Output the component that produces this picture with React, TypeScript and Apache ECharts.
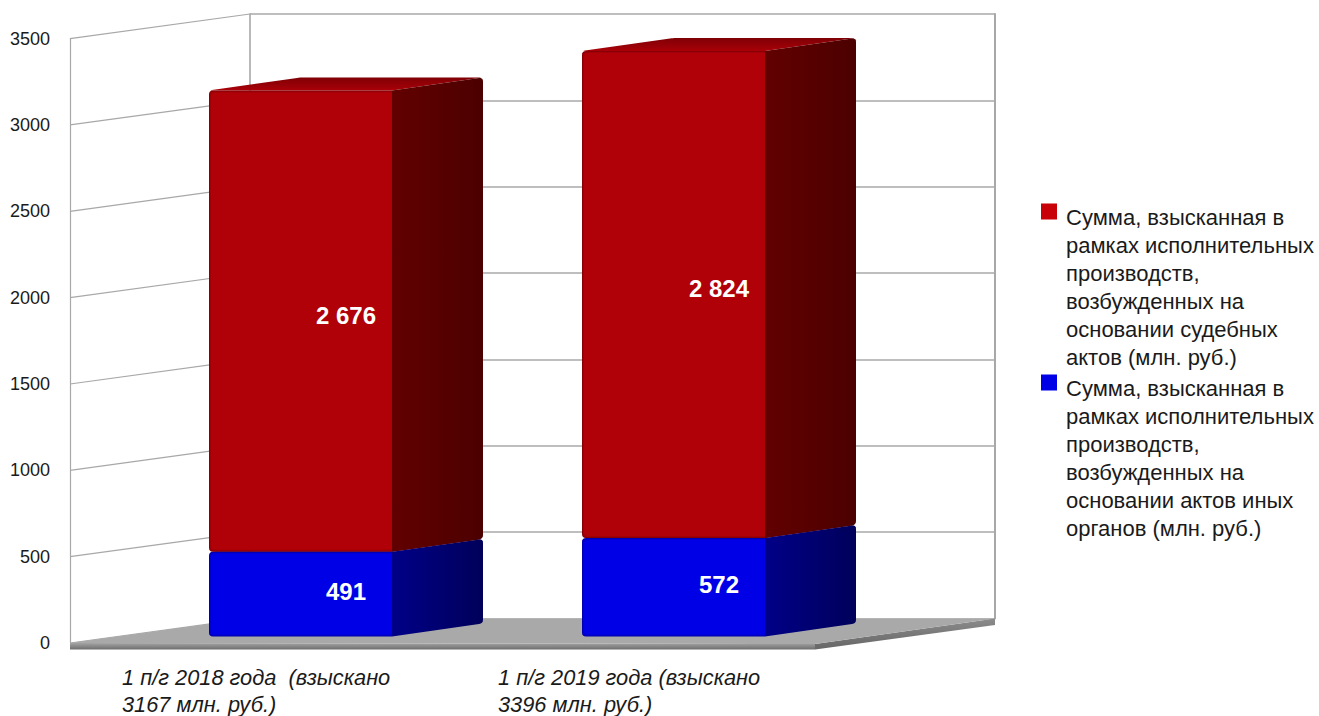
import React, { useEffect, useRef } from "react";
import * as echarts from "echarts";

const categories = ["1 п/г 2018 года  (взыскано\n3167 млн. руб.)", "1 п/г 2019 года (взыскано\n3396 млн. руб.)"];
const courtValues = [2676, 2824];
const otherValues = [491, 572];
const courtLabels = ["2 676", "2 824"];
const otherLabels = ["491", "572"];
const wallTicks = [0, 500, 1000, 1500, 2000, 2500, 3000, 3500];
const courtName = "Сумма, взысканная в\nрамках исполнительных\nпроизводств,\nвозбужденных на\nосновании судебных\nактов (млн. руб.)";
const otherName = "Сумма, взысканная в\nрамках исполнительных\nпроизводств,\nвозбужденных на\nосновании актов иных\nорганов (млн. руб.)";

const W = 1319;
const H = 716;
const FONT = "'Liberation Sans', Arial, sans-serif";
const WALL = "#a8a8a8";
const WALL_DX = 180;
const WALL_DY = -24.6;
const BAR_DX = 91;
const BAR_DY = -13;
const BAR_W = 183;

type P = [number, number];
function rounded(points: P[], radii: number[]): P[] {
  const out: P[] = [];
  const n = points.length;
  points.forEach((p, i) => {
    const r = radii[i];
    if (!r) {
      out.push(p);
      return;
    }
    const a = points[(i + n - 1) % n];
    const b = points[(i + 1) % n];
    const la = Math.hypot(a[0] - p[0], a[1] - p[1]);
    const lb = Math.hypot(b[0] - p[0], b[1] - p[1]);
    const s: P = [p[0] + ((a[0] - p[0]) * r) / la, p[1] + ((a[1] - p[1]) * r) / la];
    const e: P = [p[0] + ((b[0] - p[0]) * r) / lb, p[1] + ((b[1] - p[1]) * r) / lb];
    for (let k = 0; k <= 4; k++) {
      const t = k / 4;
      out.push([
        (1 - t) * (1 - t) * s[0] + 2 * t * (1 - t) * p[0] + t * t * e[0],
        (1 - t) * (1 - t) * s[1] + 2 * t * (1 - t) * p[1] + t * t * e[1],
      ]);
    }
  });
  return out;
}

const grad = (x2: number, y2: number, a: string, b: string) =>
  new echarts.graphic.LinearGradient(0, 0, x2, y2, [
    { offset: 0, color: a },
    { offset: 1, color: b },
  ]);

type Shade = { rim: string; mid: string; main: string; sideA: string; sideB: string; topA: string; topB: string };
const RED: Shade = { rim: "#860006", mid: "#a00007", main: "#b00008", sideA: "#620000", sideB: "#4c0000", topA: "#7e0005", topB: "#aa0008" };
const BLUE: Shade = { rim: "#0000b0", mid: "#0000d0", main: "#0000e6", sideA: "#000088", sideB: "#00005a", topA: "#0000a0", topB: "#0000c8" };

function barRenderer(shade: Shade, labels: string[], labelDy: number) {
  return (params: any, api: any) => {
    const cat = api.value(0);
    const low = api.coord([cat, api.value(1)]);
    const high = api.coord([cat, api.value(2)]);
    const l = low[0] - BAR_W / 2;
    const r = low[0] + BAR_W / 2;
    const b = low[1];
    const t = high[1];
    const poly = (pts: P[], fill: any) => ({ type: "polygon", shape: { points: pts }, style: { fill, stroke: null } });
    const frontAt = (i: number) =>
      rounded(
        [
          [l + i, t + i],
          [r, t + i],
          [r, b - i],
          [l + i, b - i],
        ],
        [4, 0, 0, 4]
      );
    return {
      type: "group",
      children: [
        poly(
          rounded(
            [
              [l, t],
              [l + BAR_DX, t + BAR_DY],
              [r + BAR_DX, t + BAR_DY],
              [r, t],
            ],
            [3, 3, 4, 0]
          ),
          grad(0, 1, shade.topA, shade.topB)
        ),
        poly(
          rounded(
            [
              [r, t],
              [r + BAR_DX, t + BAR_DY],
              [r + BAR_DX, b + BAR_DY],
              [r, b],
            ],
            [0, 4, 4, 0]
          ),
          grad(1, 0, shade.sideA, shade.sideB)
        ),
        poly(frontAt(0), shade.rim),
        poly(frontAt(1), shade.mid),
        poly(frontAt(2), shade.main),
        {
          type: "text",
          style: {
            text: labels[cat],
            x: (l + r + BAR_DX) / 2,
            y: (t + b) / 2 + labelDy,
            fill: "#ffffff",
            font: `bold 24px ${FONT}`,
            align: "center",
            verticalAlign: "middle",
          },
        },
      ],
    };
  };
}

function floorRenderer(_params: any, api: any) {
  const p = api.coord([0, api.value(0)]);
  const x0 = 70;
  const y0 = p[1];
  const fr = 815;
  const backL = x0 + WALL_DX;
  const backR = backL + 745;
  const yb = y0 + WALL_DY;
  const thick = 6.5;
  return {
    type: "group",
    children: [
      {
        type: "polygon",
        shape: { points: [[x0, y0], [fr, y0 + 1], [fr, y0 + thick], [x0, y0 + thick]] },
        style: { fill: grad(0, 1, "#a4a4a4", "#6e6e6e") },
      },
      {
        type: "polygon",
        shape: { points: [[fr, y0 + 1], [backR, yb], [backR, yb + thick], [fr, y0 + thick]] },
        style: { fill: grad(0, 1, "#8c8c8c", "#666666") },
      },
      {
        type: "polygon",
        shape: { points: [[x0, y0], [backL, yb], [backR, yb], [fr, y0 + 1]] },
        style: { fill: "#a9a9a9" },
      },
    ],
  };
}

function diagonalRenderer(_params: any, api: any) {
  const p = api.coord([0, api.value(0)]);
  return {
    type: "line",
    shape: { x1: 70, y1: p[1], x2: 70 + WALL_DX, y2: p[1] + WALL_DY },
    style: { stroke: WALL, lineWidth: 1.2 },
  };
}

const hiddenAxis = { show: false };

export default function App() {
  const ref = useRef<HTMLDivElement>(null);

  useEffect(() => {
    document.body.style.margin = "0";
    const chart = echarts.init(ref.current!, undefined, { renderer: "svg" });
    const otherData = otherValues.map((v, i) => [i, 0, v]);
    const courtData = courtValues.map((v, i) => [i, otherValues[i], otherValues[i] + v]);

    chart.setOption({
      animation: false,
      backgroundColor: "#ffffff",
      legend: {
        orient: "vertical",
        left: 1041,
        top: 203,
        padding: 0,
        itemWidth: 20,
        itemHeight: 168,
        itemGap: 3,
        icon: "path://M0 1L16 1L16 17L0 17ZM20 168L20 168Z",
        selectedMode: false,
        textStyle: { fontFamily: FONT, fontSize: 22, lineHeight: 28, color: "#1a1a1a" },
        data: [
          { name: courtName, itemStyle: { color: "#c80008" } },
          { name: otherName, itemStyle: { color: "#0000e6" } },
        ],
      },
      grid: [
        { left: 70, width: 743, top: 38.6, height: 604.4, outerBoundsMode: "none" },
        { left: 250, width: 745, top: 14, height: 604.4, outerBoundsMode: "none" },
        { left: 114, width: 746, top: 33.1, height: 603.4, outerBoundsMode: "none" },
        { left: 122, width: 376, top: 0, height: 660, outerBoundsMode: "none" },
      ],
      xAxis: [
        { gridIndex: 0, type: "category", data: categories, ...hiddenAxis },
        { gridIndex: 1, type: "category", data: categories, ...hiddenAxis },
        { gridIndex: 2, type: "category", data: categories, ...hiddenAxis },
        {
          gridIndex: 3,
          type: "category",
          data: categories,
          boundaryGap: false,
          axisLine: { show: false },
          axisTick: { show: false },
          axisLabel: {
            interval: 0,
            showMinLabel: true,
            showMaxLabel: true,
            hideOverlap: false,
            align: "left",
            verticalAlign: "top",
            margin: 4,
            fontFamily: FONT,
            fontStyle: "italic",
            fontSize: 21.8,
            lineHeight: 27,
            color: "#1a1a1a",
          },
        },
      ],
      yAxis: [
        {
          gridIndex: 0,
          type: "value",
          min: 0,
          max: 3500,
          interval: 500,
          axisLine: { show: true, lineStyle: { color: WALL, width: 1.2 } },
          axisTick: { show: false },
          splitLine: { show: false },
          axisLabel: { margin: 20, fontFamily: FONT, fontSize: 18, color: "#1a1a1a", formatter: (v: number) => String(v) },
        },
        {
          gridIndex: 1,
          type: "value",
          min: 0,
          max: 3500,
          interval: 500,
          axisLine: { show: true, lineStyle: { color: WALL, width: 1.6 } },
          axisTick: { show: false },
          axisLabel: { show: false },
          splitLine: { show: true, lineStyle: { color: WALL, width: 1.6 } },
        },
        {
          gridIndex: 1,
          type: "value",
          position: "right",
          min: 0,
          max: 3500,
          interval: 500,
          axisLine: { show: true, lineStyle: { color: WALL, width: 2 } },
          axisTick: { show: false },
          axisLabel: { show: false },
          splitLine: { show: false },
        },
        { gridIndex: 2, type: "value", min: 0, max: 3500, ...hiddenAxis },
        { gridIndex: 3, type: "value", min: 0, max: 3500, ...hiddenAxis },
      ],
      series: [
        {
          name: "walls",
          type: "custom",
          xAxisIndex: 0,
          yAxisIndex: 0,
          z: 1,
          silent: true,
          renderItem: diagonalRenderer,
          encode: { y: 0 },
          data: wallTicks.map((v) => [v]),
        },
        {
          name: "floor",
          type: "custom",
          xAxisIndex: 0,
          yAxisIndex: 0,
          z: 3,
          silent: true,
          renderItem: floorRenderer,
          encode: { y: 0 },
          data: [[0]],
        },
        {
          name: otherName,
          type: "custom",
          xAxisIndex: 2,
          yAxisIndex: 3,
          z: 4,
          clip: false,
          renderItem: barRenderer(BLUE, otherLabels, -3),
          encode: { x: 0, y: [1, 2] },
          data: otherData,
        },
        {
          name: courtName,
          type: "custom",
          xAxisIndex: 2,
          yAxisIndex: 3,
          z: 5,
          clip: false,
          renderItem: barRenderer(RED, courtLabels, -6),
          encode: { x: 0, y: [1, 2] },
          data: courtData,
        },
      ],
    });
    return () => chart.dispose();
  }, []);

  return <div ref={ref} style={{ position: "fixed", left: 0, top: 0, width: W, height: H }} />;
}
